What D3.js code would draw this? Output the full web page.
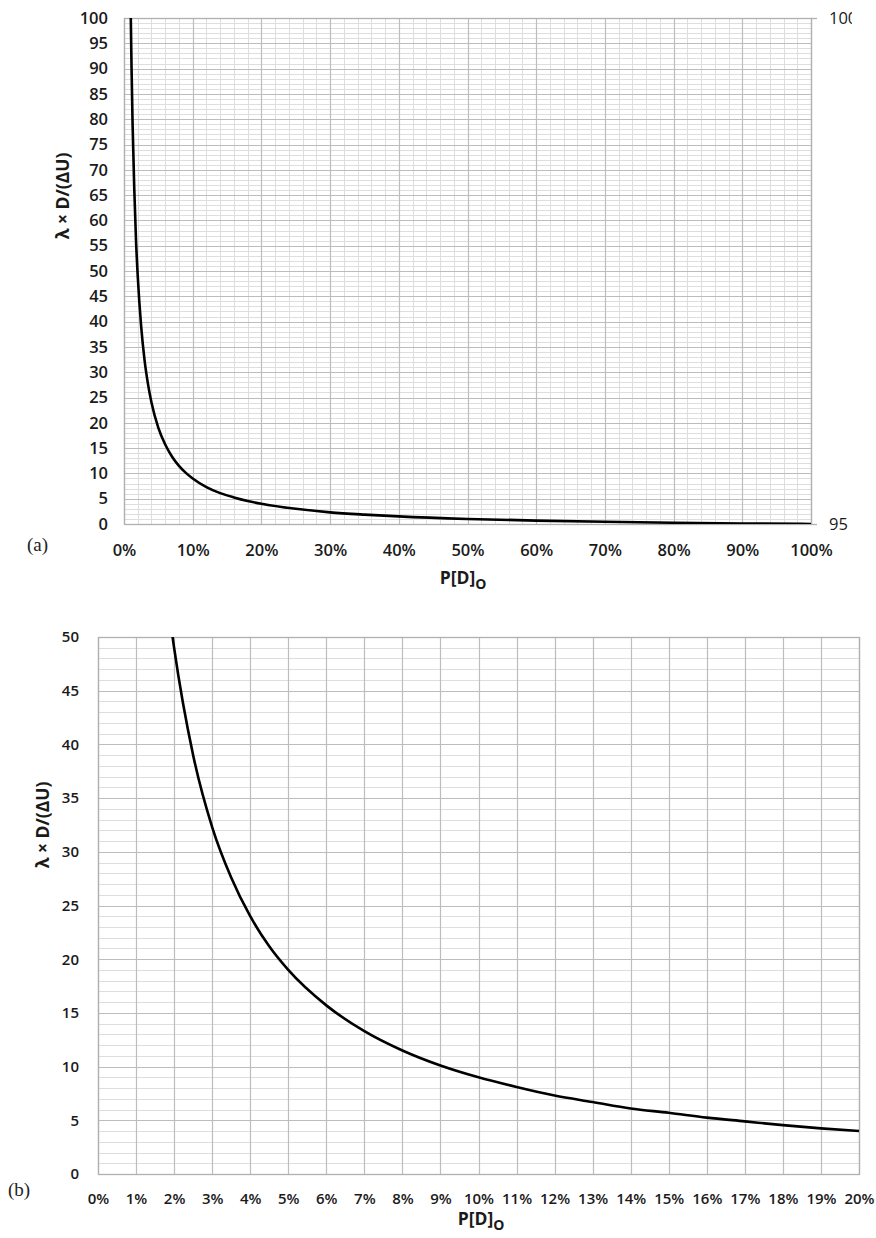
<!DOCTYPE html>
<html>
<head>
<meta charset="utf-8">
<script src="https://cdn.jsdelivr.net/npm/d3@7"></script>
<style>
  html, body { margin: 0; padding: 0; background: #fff; }
  svg { display: block; }
  .tick text { font-family: "Open Sans", sans-serif; }
</style>
</head>
<body>
<svg id="chart" width="876" height="1238"></svg>
<script>
// ---------- Data ----------
// Panel (a): P[D]o from 0% to 100%
const pA = [0.0099, 0.011, 0.0125, 0.015, 0.0175, 0.02, 0.025, 0.03, 0.035, 0.04, 0.05, 0.06, 0.07, 0.08, 0.09, 0.10,
            0.12, 0.14, 0.16, 0.18, 0.20, 0.25, 0.30, 0.35, 0.40, 0.50, 0.60, 0.70, 0.80, 0.90, 1.00];
const yA = [100, 90, 79, 66, 56, 49, 39, 32.3, 27.6, 24, 19, 15.7, 13.3, 11.5, 10.1, 9,
            7.3, 6.1, 5.25, 4.55, 4, 3, 2.3, 1.85, 1.5, 1, 0.67, 0.43, 0.25, 0.11, 0];
// Panel (b): zoom on 0% to 20%
const pB = [0.0196, 0.02, 0.025, 0.03, 0.035, 0.04, 0.045, 0.05, 0.06, 0.07, 0.08, 0.09, 0.10, 0.11, 0.12,
            0.13, 0.14, 0.15, 0.16, 0.17, 0.18, 0.19, 0.20];
const yB = [50, 49, 39, 32.3, 27.6, 24, 21.2, 19, 15.7, 13.3, 11.5, 10.1, 9, 8.1, 7.3,
            6.7, 6.1, 5.7, 5.25, 4.9, 4.55, 4.25, 4];

// tick labels
const yTicksA = d3.range(0, 101, 5);
const xTicksA = d3.range(0, 1.0001, 0.1);
const rightTicksA = [95, 100];
const yTicksB = d3.range(0, 51, 5);
const xTicksB = d3.range(0, 0.2001, 0.01);

const yTitle = "λ × D/(ΔU)";
const xTitleMain = "P[D]";
const xTitleSub = "O";

// ---------- Drawing ----------
const svg = d3.select("#chart");
const MAJOR = "#bdbdbd", MINOR = "#dedede";

function panel(cfg) {
  const g = svg.append("g");
  const x = d3.scaleLinear().domain(cfg.xDomain).range([cfg.left, cfg.right]);
  const y = d3.scaleLinear().domain(cfg.yDomain).range([cfg.bottom, cfg.top]);

  // minor horizontal gridlines
  g.append("g").selectAll("line").data(d3.range(cfg.yDomain[0], cfg.yDomain[1] + 0.001, 1).filter(v => v % 5 !== 0))
    .join("line")
    .attr("x1", cfg.left).attr("x2", cfg.right)
    .attr("y1", d => Math.round(y(d)) + 0.5).attr("y2", d => Math.round(y(d)) + 0.5)
    .attr("stroke", MINOR).attr("stroke-width", 1);
  // minor vertical gridlines
  if (cfg.xMinor) {
    g.append("g").selectAll("line").data(cfg.xMinor)
      .join("line")
      .attr("y1", cfg.top).attr("y2", cfg.bottom)
      .attr("x1", d => Math.round(x(d)) + 0.5).attr("x2", d => Math.round(x(d)) + 0.5)
      .attr("stroke", MINOR).attr("stroke-width", 1);
  }
  // major horizontal gridlines
  g.append("g").selectAll("line").data(cfg.yTicks)
    .join("line")
    .attr("x1", cfg.left).attr("x2", cfg.right)
    .attr("y1", d => Math.round(y(d)) + 0.5).attr("y2", d => Math.round(y(d)) + 0.5)
    .attr("stroke", MAJOR).attr("stroke-width", 1.2);
  // major vertical gridlines
  g.append("g").selectAll("line").data(cfg.xTicks)
    .join("line")
    .attr("y1", cfg.top).attr("y2", cfg.bottom)
    .attr("x1", d => Math.round(x(d)) + 0.5).attr("x2", d => Math.round(x(d)) + 0.5)
    .attr("stroke", MAJOR).attr("stroke-width", 1.2);
  // frame
  g.append("rect").attr("x", cfg.left + 0.5).attr("y", cfg.top + 0.5)
    .attr("width", cfg.right - cfg.left).attr("height", cfg.bottom - cfg.top)
    .attr("fill", "none").attr("stroke", "#b0b0b0").attr("stroke-width", 1.3);

  // y axis labels
  const ya = g.append("g").attr("transform", `translate(${cfg.left},0)`)
    .call(d3.axisLeft(y).tickValues(cfg.yTicks).tickSize(0).tickPadding(cfg.yPad).tickFormat(d3.format("d")));
  ya.select(".domain").remove();
  ya.selectAll("text").attr("font-size", cfg.fs).attr("font-weight", 600).attr("fill", "#1a1a1a");

  // x axis labels
  const xa = g.append("g").attr("transform", `translate(0,${cfg.bottom})`)
    .call(d3.axisBottom(x).tickValues(cfg.xTicks).tickSize(0).tickFormat(d3.format(".0%")));
  xa.select(".domain").remove();
  xa.selectAll("text").attr("y", cfg.xLabOff).attr("dy", 0)
    .attr("font-size", cfg.fs).attr("font-weight", 600).attr("fill", "#1a1a1a");

  // clip + curve
  const clipId = "clip" + cfg.id;
  svg.append("clipPath").attr("id", clipId).append("rect")
    .attr("x", cfg.left).attr("y", cfg.top).attr("width", cfg.right - cfg.left + 2).attr("height", cfg.bottom - cfg.top);
  const line = d3.line().x((d, i) => x(cfg.px[i])).y(d => y(d)).curve(d3.curveMonotoneX);
  g.append("path").datum(cfg.py).attr("d", line).attr("clip-path", `url(#${clipId})`)
    .attr("fill", "none").attr("stroke", "#000").attr("stroke-width", 2.6);

  // y title
  g.append("text").attr("transform", `translate(${cfg.yTitleX},${cfg.yTitleY}) rotate(-90)`)
    .attr("text-anchor", "middle").attr("dominant-baseline", "central")
    .attr("font-family", "Open Sans, sans-serif").attr("font-weight", 700).attr("font-size", cfg.titleFs)
    .attr("fill", "#1a1a1a").text(yTitle);
  // x title
  const xt = g.append("text").attr("x", cfg.xTitleX).attr("y", cfg.xTitleY).attr("text-anchor", "middle")
    .attr("font-family", "Open Sans, sans-serif").attr("font-weight", 700).attr("font-size", cfg.titleFs)
    .attr("fill", "#1a1a1a");
  xt.append("tspan").text(xTitleMain);
  xt.append("tspan").attr("dy", 5).attr("font-size", cfg.titleFs * 0.8).text(xTitleSub);

  // panel tag
  g.append("text").attr("x", cfg.tagX).attr("y", cfg.tagY)
    .attr("font-family", "Liberation Serif, DejaVu Serif, serif").attr("font-size", 19)
    .attr("fill", "#222").text(cfg.tag);

  return { g, x, y };
}

const A = panel({
  id: "a", left: 124, right: 811, top: 18, bottom: 524,
  xDomain: [0, 1], yDomain: [0, 100],
  xTicks: xTicksA, yTicks: yTicksA,
  xMinor: d3.range(0, 1.0001, 0.02).filter((v, i) => i % 5 !== 0),
  px: pA, py: yA, fs: 16.5, yPad: 16, xLabOff: 32,
  yTitleX: 62, yTitleY: 196, xTitleX: 463, xTitleY: 584, titleFs: 17.5,
  tag: "(a)", tagX: 27, tagY: 551
});

// odd secondary axis on the right of panel (a)
const yR = d3.scaleLinear().domain([95, 100]).range([524, 18]);
const ra = svg.append("g").attr("transform", "translate(811,0)");
ra.append("clipPath").attr("id", "rclip").append("rect").attr("x", -5).attr("y", 0).attr("width", 46).attr("height", 600);
ra.attr("clip-path", "url(#rclip)")
  .call(d3.axisRight(yR).tickValues(rightTicksA).tickSize(6).tickPadding(12).tickFormat(d3.format("d")));
ra.select(".domain").remove();
ra.selectAll(".tick line").attr("stroke", "#b0b0b0").attr("stroke-width", 1.3);
ra.selectAll(".tick text").attr("font-size", 16.5).attr("fill", "#1a1a1a");

const B = panel({
  id: "b", left: 98, right: 859, top: 637, bottom: 1174,
  xDomain: [0, 0.2], yDomain: [0, 50],
  xTicks: xTicksB, yTicks: yTicksB, xMinor: null,
  px: pB, py: yB, fs: 15, yPad: 19, xLabOff: 30,
  yTitleX: 42, yTitleY: 825, xTitleX: 481, xTitleY: 1225, titleFs: 17.5,
  tag: "(b)", tagX: 8, tagY: 1196
});
</script>
</body>
</html>
